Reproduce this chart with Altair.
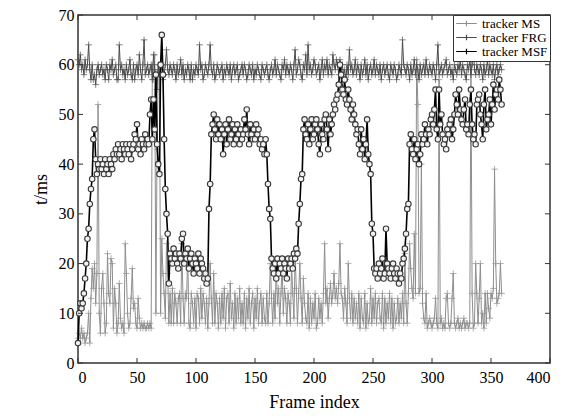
import altair as alt
import pandas as pd

# ---------------- data ----------------
ms = [5,6,5,7,5,6,4,5,6,10,4,13,19,15,20,12,18,52,10,6,
      15,18,12,6,8,22,14,12,21,20,7,15,12,6,8,16,9,7,8,6,
      24,18,10,7,8,13,19,11,12,8,7,13,9,7,8,7,8,7,7,8,
      7,8,7,60,57,62,10,43,59,60,10,25,18,14,9,24,18,8,14,8,
      15,8,14,12,8,13,14,8,24,13,8,14,13,22,8,7,14,12,8,13,
      7,14,13,8,15,9,14,12,8,13,7,12,20,13,8,18,8,14,12,7,
      13,8,14,9,15,7,13,14,8,16,9,12,7,14,8,13,9,15,8,12,
      8,14,7,13,9,15,8,12,14,7,13,9,15,8,12,14,8,13,9,8,
      14,8,12,20,13,8,14,9,20,12,15,8,14,20,10,15,13,8,14,12,
      8,20,14,9,22,15,8,14,20,13,8,17,12,9,8,14,7,13,8,12,
      9,14,7,8,13,9,12,8,14,24,12,15,9,13,16,12,14,18,13,15,
      12,16,24,14,13,9,15,12,8,20,13,9,14,8,13,9,12,8,14,7,
      13,9,8,14,7,12,8,9,15,8,13,9,14,8,12,13,9,8,14,7,
      13,8,12,9,14,8,13,7,12,8,9,13,8,12,9,14,8,22,12,8,
      14,24,19,15,13,26,14,61,52,14,15,40,12,9,8,14,7,8,9,8,
      7,8,9,13,8,7,57,8,9,7,8,7,13,14,8,7,8,13,18,8,
      7,8,9,7,8,7,8,9,7,8,8,7,8,60,14,7,8,20,14,8,
      13,20,8,10,7,14,8,14,11,9,14,13,15,39,20,12,13,14,20,14]

frg = [61,60,62,59,60,58,61,59,60,64,59,57,60,57,58,56,59,60,58,59,
       60,58,59,57,60,59,57,60,59,61,58,59,60,57,57,64,59,60,58,59,
       57,60,58,59,61,58,57,60,57,59,60,58,62,59,57,60,65,58,59,60,
       58,59,60,57,62,59,58,55,60,58,59,60,57,58,60,63,59,58,60,59,
       58,60,59,57,60,58,59,61,58,60,57,59,58,60,59,57,60,57,59,58,
       60,59,58,64,59,60,57,58,60,59,58,60,64,59,58,60,57,58,60,59,
       58,59,60,57,59,58,60,59,58,60,57,59,60,58,59,60,57,58,59,60,
       58,60,59,57,58,60,59,58,60,57,59,58,60,59,58,57,60,59,58,59,
       60,58,57,59,60,58,59,61,58,60,59,58,57,60,59,61,58,60,59,58,
       60,59,57,60,63,58,59,61,60,58,57,60,59,62,58,64,59,60,58,59,
       61,60,58,59,60,57,59,61,58,60,59,61,58,60,59,58,62,60,59,61,
       60,58,61,59,60,58,59,57,60,58,63,59,60,58,59,61,58,60,59,57,
       60,58,59,61,58,60,57,59,60,58,59,61,58,60,59,58,60,57,59,60,
       58,59,60,58,57,60,59,58,60,59,57,58,60,59,58,65,60,59,58,60,
       59,57,60,58,59,61,58,60,59,57,60,58,59,60,58,61,59,58,60,59,
       58,60,59,57,60,64,58,59,60,58,59,60,61,58,59,60,58,59,57,60,
       59,58,60,59,61,58,60,59,58,57,60,59,61,58,60,64,59,58,60,59,
       58,60,59,57,60,58,59,61,58,60,59,58,60,57,59,60,58,59,60,59]

msf = [4,10,12,11,12,14,17,20,25,27,32,35,37,45,47,41,38,40,39,41,
       39,40,38,41,39,40,38,41,40,39,42,41,43,42,44,42,43,41,44,43,
       42,44,43,42,44,41,43,44,46,45,48,43,44,42,45,44,43,46,44,45,
       44,50,53,45,53,47,58,44,40,38,60,66,58,45,35,30,26,16,22,21,
       20,23,21,22,20,19,22,21,25,26,20,22,21,23,19,21,22,20,18,21,
       20,19,22,18,21,20,19,17,18,16,17,31,36,46,48,50,47,45,49,46,
       48,45,47,42,46,48,44,47,49,45,46,48,44,47,45,48,46,44,47,45,
       46,49,47,51,46,44,48,46,45,47,45,48,46,47,44,45,43,44,42,45,
       42,36,31,29,21,19,18,20,17,21,18,20,19,21,18,20,19,17,21,19,
       20,21,19,22,21,23,22,28,32,37,38,47,49,46,45,48,44,47,49,45,
       46,48,49,47,44,42,48,46,45,49,50,47,43,49,46,48,50,52,51,53,
       54,56,60,58,55,54,57,53,52,55,53,51,49,52,50,48,46,47,44,42,
       47,43,45,41,44,49,42,40,38,28,26,19,18,19,17,20,18,19,21,17,
       18,27,20,19,18,17,19,20,18,17,19,18,16,18,17,20,21,23,26,31,
       32,44,46,43,42,45,41,43,44,40,42,46,44,45,48,46,44,47,46,49,
       50,48,51,55,47,45,55,48,50,46,44,45,43,47,46,48,49,45,47,50,
       54,52,50,55,51,49,48,51,53,47,48,46,52,55,48,45,46,44,52,53,
       54,50,48,45,52,55,47,49,50,53,48,52,56,51,54,55,53,57,55,52]

series_names = ["tracker MS", "tracker FRG", "tracker MSF"]
series_colors = ["#8e8e8e", "#4a4a4a", "#000000"]
x_ticks = [0, 50, 100, 150, 200, 250, 300, 350, 400]
y_ticks = [0, 10, 20, 30, 40, 50, 60, 70]

frames = list(range(len(msf)))
df_ms = pd.DataFrame({"frame": frames, "t": ms, "series": series_names[0]})
df_frg = pd.DataFrame({"frame": frames, "t": frg, "series": series_names[1]})
df_msf = pd.DataFrame({"frame": frames, "t": msf, "series": series_names[2]})

W, H = 472, 348
FONT = "Liberation Serif"
PLUS = "M-1,0H1M0,-1V1"

xs = alt.Scale(domain=[0, 400], nice=False)
ys = alt.Scale(domain=[0, 70], nice=False)
color_scale = alt.Scale(domain=series_names, range=series_colors)

x_enc = alt.X("frame:Q", scale=xs,
              axis=alt.Axis(title="Frame index", values=x_ticks, ticks=False,
                            domain=False, grid=False, labelPadding=6,
                            titlePadding=8))
y_enc = alt.Y("t:Q", scale=ys,
              axis=alt.Axis(title="t/ms", values=y_ticks, ticks=False,
                            domain=False, grid=False, labelPadding=4,
                            titlePadding=8))

def line_layer(df, width):
    return alt.Chart(df).mark_line(strokeWidth=width).encode(
        x=x_enc, y=y_enc,
        color=alt.Color("series:N", scale=color_scale, sort=series_names,
                        legend=alt.Legend(title=None, orient="top-right",
                                          offset=0, symbolType="M-1.8,0H1.8M0,-0.5V0.5",
                                          symbolSize=130, symbolStrokeWidth=1.2,
                                          labelFont=FONT, labelFontSize=13,
                                          labelColor="#000", strokeColor="#333",
                                          fillColor="#fff", padding=2,
                                          rowPadding=0, symbolOffset=5,
                                          labelOffset=9)))

ms_line = line_layer(df_ms, 1)
ms_pts = alt.Chart(df_ms).mark_point(shape=PLUS, size=42, filled=False,
                                     stroke=series_colors[0], strokeWidth=1).encode(x="frame:Q", y="t:Q")
frg_line = line_layer(df_frg, 1)
frg_pts = alt.Chart(df_frg).mark_point(shape=PLUS, size=42, filled=False,
                                       stroke=series_colors[1], strokeWidth=1).encode(x="frame:Q", y="t:Q")
msf_line = line_layer(df_msf, 1.6)
msf_pts = alt.Chart(df_msf).mark_point(shape="circle", size=30, filled=True,
                                       fill="#f2f2f2", fillOpacity=1, stroke="#3a3a3a",
                                       strokeWidth=1.1, opacity=1).encode(x="frame:Q", y="t:Q")

# inward ticks (MATLAB style) on all four sides
xt = pd.DataFrame({"v": x_ticks})
yt = pd.DataFrame({"v": y_ticks})
tick_style = dict(color="#333", strokeWidth=1)
xb = alt.Chart(xt).mark_rule(**tick_style).encode(x=alt.X("v:Q", scale=xs), y=alt.value(H), y2=alt.value(H - 5))
xtop = alt.Chart(xt).mark_rule(**tick_style).encode(x=alt.X("v:Q", scale=xs), y=alt.value(0), y2=alt.value(5))
yl = alt.Chart(yt).mark_rule(**tick_style).encode(y=alt.Y("v:Q", scale=ys), x=alt.value(0), x2=alt.value(5))
yr = alt.Chart(yt).mark_rule(**tick_style).encode(y=alt.Y("v:Q", scale=ys), x=alt.value(W), x2=alt.value(W - 5))

chart = alt.layer(ms_line, ms_pts, frg_line, frg_pts, msf_line, msf_pts,
                  xb, xtop, yl, yr).properties(
    width=W, height=H,
    autosize=alt.AutoSizeParams(type="none"),
    padding={"left": 70, "top": 7, "right": 15, "bottom": 55},
    background="#ffffff",
).configure_view(stroke="#333333", strokeWidth=1.5).configure_axis(
    labelFont=FONT, labelFontSize=16, labelColor="#000",
    titleFont=FONT, titleFontSize=18, titleColor="#000", titleFontWeight="normal",
)

chart.save("out.html", embed_options={"renderer": "svg", "actions": False})
